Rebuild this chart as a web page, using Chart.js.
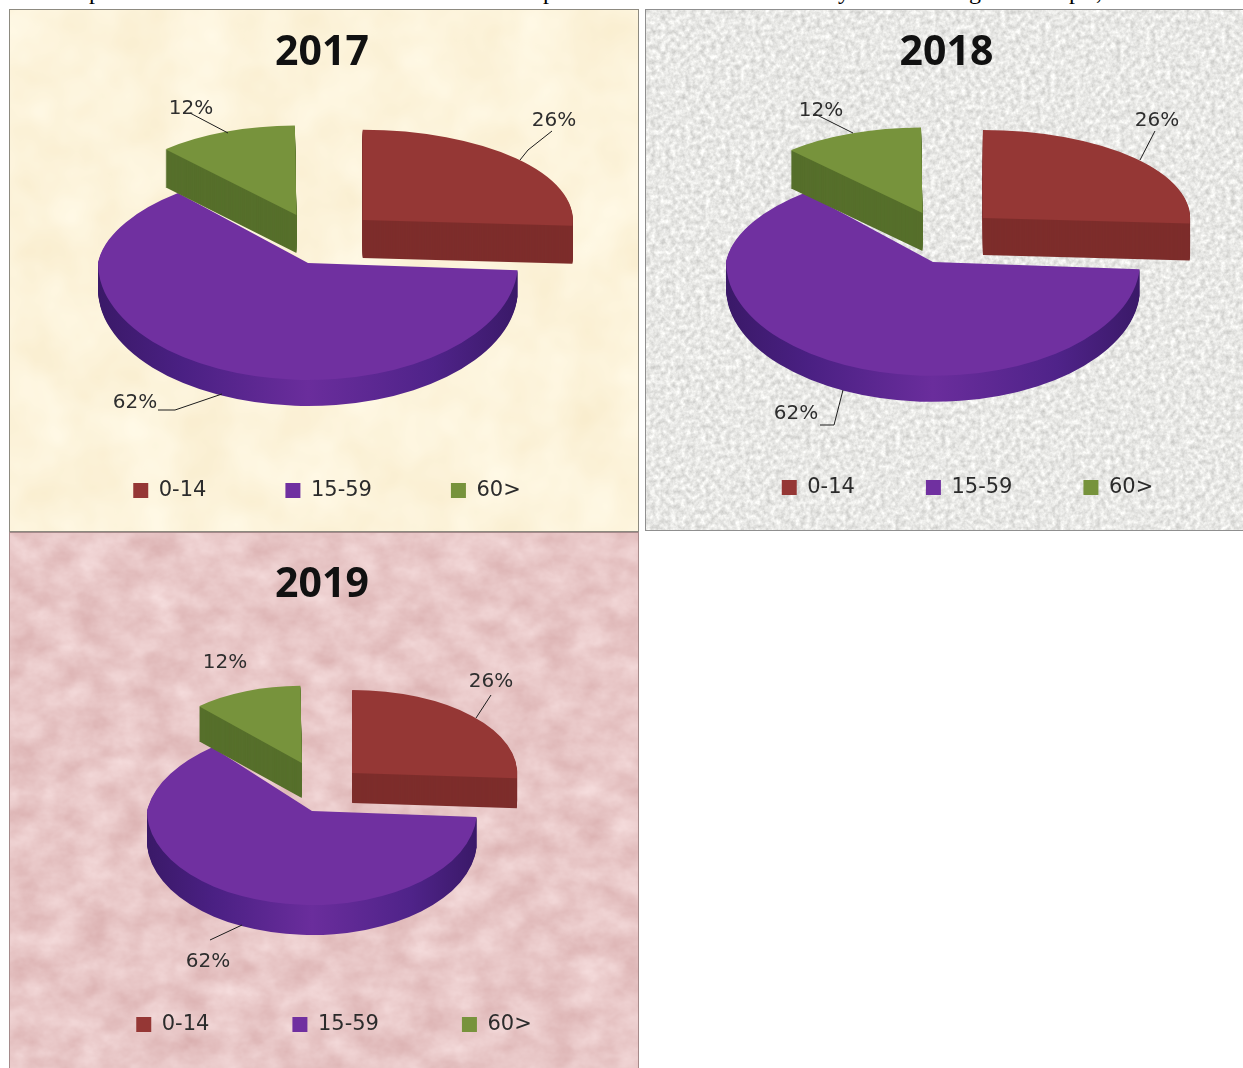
<!DOCTYPE html>
<html>
<head>
<meta charset="utf-8">
<script src="https://cdn.jsdelivr.net/npm/chart.js@4"></script>
<style>
html,body{margin:0;padding:0;background:#fff;width:1243px;height:1068px;overflow:hidden}
.frag{position:absolute;top:-21px;font:24px/24px "Liberation Serif",serif;color:#000}
.panel{position:absolute;box-sizing:border-box;overflow:hidden}
.panel svg,.panel canvas{position:absolute;left:0;top:0}
.panel canvas{filter:blur(.6px)}
</style>
</head>
<body>
<span class="frag" style="left:89px">p</span>
<span class="frag" style="left:543px">p</span>
<span class="frag" style="left:838px">y</span>
<span class="frag" style="left:969px">g</span>
<span class="frag" style="left:1069px">p</span>
<span class="frag" style="left:1096px">,</span>

<svg width="0" height="0" style="position:absolute">
  <filter id="texCream" x="0" y="0" width="100%" height="100%" color-interpolation-filters="sRGB">
    <feTurbulence type="fractalNoise" baseFrequency="0.018" numOctaves="3" seed="4"/>
    <feColorMatrix type="matrix" values="0.03 0 0 0 0.975  0.06 0 0 0 0.925  0.12 0 0 0 0.80  0 0 0 0 1"/>
  </filter>
  <filter id="texGrey" x="0" y="0" width="100%" height="100%" color-interpolation-filters="sRGB">
    <feTurbulence type="fractalNoise" baseFrequency="0.2" numOctaves="3" seed="9"/>
    <feColorMatrix type="matrix" values="0.30 0 0 0 0.76  0.30 0 0 0 0.76  0.30 0 0 0 0.75  0 0 0 0 1"/>
  </filter>
  <filter id="texPink" x="0" y="0" width="100%" height="100%" color-interpolation-filters="sRGB">
    <feTurbulence type="fractalNoise" baseFrequency="0.03 0.04" numOctaves="4" seed="12"/>
    <feColorMatrix type="matrix" values="0.12 0 0 0 0.85  0.20 0 0 0 0.68  0.20 0 0 0 0.68  0 0 0 0 1"/>
  </filter>
</svg>

<div class="panel" id="p0" style="left:9px;top:9px;width:630px;height:523px;border:1px solid #8d8a80"></div>
<div class="panel" id="p1" style="left:645px;top:9px;width:598px;height:522px;border:1px solid #8f8f8f;border-right:none"></div>
<div class="panel" id="p2" style="left:9px;top:532px;width:630px;height:536px;border:1px solid #a58a8a;border-bottom:none"></div>

<script>
// ---------- data ----------
const categories = ['0-14', '15-59', '60>'];
const years = ['2017', '2018', '2019'];
const values2017 = [26, 62, 12];
const values2018 = [26, 62, 12];
const values2019 = [26, 62, 12];
const sliceColors = ['#953735', '#7030A0', '#77933C'];
const sideColors = ['#7d2d2b', null, '#566f2b'];

// ---------- layout of each panel (page pixels) ----------
const layouts = [
  { id:'p0', title:years[0], values:values2017, tex:'texCream', origin:[10,10], size:[628,521],
    anchor:[308,263], radius:210, titleTop:19, titleMove:-2, legendPad:79, legendMove:[3,0], legendY:491,
    offsets:[300,0,144],
    poses:[{sx:1,back:.429,front:.429,shear:0,lift:-21,depth:38},
           {sx:1,back:.457,front:.557,shear:-.09,lift:0,depth:26},
           {sx:.872,back:.405,front:.405,shear:0,lift:-34.4,depth:38}],
    tags:[[554,121],[135,403],[191,109]],
    leaders:[[[552,131],[528,150],[520,160]],[[158,410],[175,410],[222,394]],[[190,113],[228,133]]] },
  { id:'p1', title:years[1], values:values2018, tex:'texGrey', origin:[646,10], size:[597,520],
    anchor:[933,262], radius:207, titleTop:19, titleMove:2, legendPad:71, legendMove:[23,0], legendY:488,
    offsets:[274,0,128],
    poses:[{sx:1,back:.425,front:.425,shear:0,lift:-24,depth:37},
           {sx:1,back:.459,front:.55,shear:-.09,lift:0,depth:26},
           {sx:.894,back:.394,front:.394,shear:0,lift:-37.3,depth:38}],
    tags:[[1157,121],[796,414],[821,111]],
    leaders:[[[1155,131],[1140,160]],[[820,425],[834,425],[843,390]],[[815,114],[853,133]]] },
  { id:'p2', title:years[2], values:values2019, tex:'texPink', origin:[10,533], size:[628,535],
    anchor:[312,811], radius:165, titleTop:28, titleMove:-2, legendPad:83, legendMove:[10,0], legendY:1025,
    offsets:[220,0,128],
    poses:[{sx:1,back:.503,front:.503,shear:0,lift:-19,depth:30},
           {sx:1,back:.53,front:.57,shear:-.11,lift:0,depth:30},
           {sx:.866,back:.44,front:.44,shear:0,lift:-35,depth:35}],
    tags:[[491,682],[208,962],[225,663]],
    leaders:[[[491,695],[476,718]],[[210,940],[242,925]],[]] }
];

const drawOrder = [1, 2, 0];

function pie3d(cfg) {
  return {
    id: 'pie3d',
    afterLayout(chart) {
      const lg = chart.legend;
      const dx = cfg.legendMove[0];
      const targetTop = cfg.legendY - cfg.origin[1] - cfg.legendPad - 11;
      lg.left += dx; lg.right += dx;
      const dy = targetTop - lg.top;
      lg.top += dy; lg.bottom += dy;
      const tb = chart.titleBlock;
      tb.left += cfg.titleMove; tb.right += cfg.titleMove;
    },
    beforeDatasetDraw(chart, args) {
      const ctx = chart.ctx;
      const ax = cfg.anchor[0] - cfg.origin[0];
      const ay = cfg.anchor[1] - cfg.origin[1];
      const W = chart.width, H = chart.height;
      const arcs = args.meta.data;

      const part = (arc, pose, y0, y1, dy, sy, shear) => {
        ctx.save();
        ctx.beginPath();
        ctx.rect(0, y0, W, y1 - y0);
        ctx.clip();
        ctx.translate(ax, ay + pose.lift + dy);
        ctx.transform(pose.sx, 0, shear, sy, 0, 0);
        ctx.translate(-arc.x, -arc.y);
        arc.draw(ctx);
        ctx.restore();
      };
      const both = (arc, pose, dy) => {
        const seam = Math.round(ay + pose.lift + dy);
        part(arc, pose, 0, seam, dy, pose.back, pose.shear);
        part(arc, pose, seam, H, dy, pose.front, 0);
      };

      drawOrder.forEach(i => {
        const arc = arcs[i], pose = cfg.poses[i], base = arc.options;
        let side = sideColors[i];
        if (!side) {
          const g = ctx.createLinearGradient(arc.x - cfg.radius, 0, arc.x + cfg.radius, 0);
          g.addColorStop(0, '#3a1968');
          g.addColorStop(.2, '#4a2083');
          g.addColorStop(.5, '#6a2d9c');
          g.addColorStop(.8, '#4f2389');
          g.addColorStop(1, '#3a1968');
          side = g;
        }
        arc.options = Object.assign({}, base, { backgroundColor: side, borderWidth: 0 });
        for (let d = pose.depth; d >= 1; d--) both(arc, pose, d);
        arc.options = base;
        both(arc, pose, 0);
      });
      return false;
    },
    afterDraw(chart) {
      const ctx = chart.ctx, [ox, oy] = cfg.origin;
      ctx.save();
      ctx.strokeStyle = '#1c1c1c';
      ctx.lineWidth = 1;
      cfg.leaders.forEach(pts => {
        if (!pts.length) return;
        ctx.beginPath();
        pts.forEach((p, k) => k ? ctx.lineTo(p[0] - ox, p[1] - oy) : ctx.moveTo(p[0] - ox, p[1] - oy));
        ctx.stroke();
      });
      ctx.fillStyle = '#2e2e2e';
      ctx.font = '20px "DejaVu Sans"';
      ctx.textAlign = 'center';
      ctx.textBaseline = 'middle';
      cfg.tags.forEach((p, i) => ctx.fillText(cfg.values[i] + '%', p[0] - ox, p[1] - oy));
      ctx.restore();
    }
  };
}

layouts.forEach(cfg => {
  const host = document.getElementById(cfg.id);
  const [w, h] = cfg.size;
  host.insertAdjacentHTML('beforeend',
    `<svg width="${w}" height="${h}"><rect width="${w}" height="${h}" filter="url(#${cfg.tex})"/></svg>`);
  const canvas = document.createElement('canvas');
  canvas.width = w; canvas.height = h;
  canvas.style.width = w + 'px'; canvas.style.height = h + 'px';
  host.appendChild(canvas);
  new Chart(canvas.getContext('2d'), {
    type: 'pie',
    data: {
      labels: categories,
      datasets: [{
        data: cfg.values,
        backgroundColor: sliceColors,
        borderWidth: 0,
        offset: cfg.offsets
      }]
    },
    options: {
      responsive: false,
      animation: false,
      radius: cfg.radius,
      events: [],
      plugins: {
        tooltip: { enabled: false },
        title: {
          display: true, text: cfg.title, color: '#111',
          font: { family: '"Noto Sans"', size: 41, weight: 'bold' },
          padding: { top: cfg.titleTop, bottom: 4 }
        },
        legend: {
          display: true, position: 'bottom',
          labels: {
            color: '#2b2b2b', boxWidth: 15, boxHeight: 15, padding: cfg.legendPad,
            font: { family: '"DejaVu Sans"', size: 21 }
          }
        }
      }
    },
    plugins: [pie3d(cfg)]
  });
});
</script>
</body>
</html>
